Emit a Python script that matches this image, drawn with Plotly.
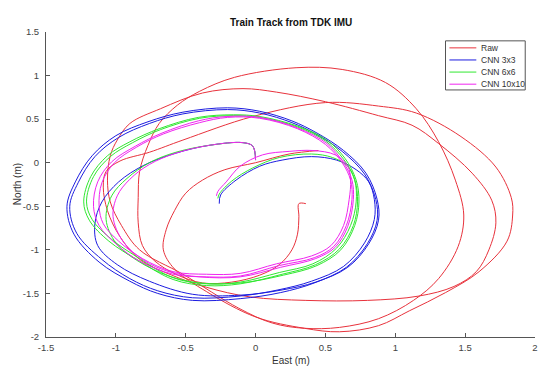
import plotly.graph_objects as go

# Trajectories (East, North) in metres
raw_pts = [
    (0.36, -0.47), (0.31, -0.47), (0.31, -0.62), (0.30, -0.82), (0.26, -1.00), (0.17, -1.17), (0.03, -1.29),
    (-0.17, -1.37), (-0.38, -1.38), (-0.57, -1.28), (-0.72, -1.13),
    (-0.81, -0.95), (-0.84, -0.69), (-0.84, -0.40), (-0.83, -0.10), (-0.77, 0.20), (-0.69, 0.45), (-0.56, 0.66),
    (-0.40, 0.82), (-0.15, 0.98), (0.29, 1.09), (0.62, 1.07), (0.93, 0.92), (1.15, 0.62), (1.31, 0.24),
    (1.43, -0.20), (1.49, -0.60), (1.45, -0.96), (1.31, -1.33), (1.13, -1.58), (0.88, -1.79), (0.60, -1.89),
    (0.35, -1.90), (0.12, -1.84), (-0.12, -1.67), (-0.52, -1.28), (-0.83, -1.00),
    (-0.96, -0.72), (-1.04, -0.45), (-1.06, -0.20), (-1.04, 0.08), (-0.99, 0.26), (-0.90, 0.45), (-0.68, 0.62),
    (-0.38, 0.80), (-0.09, 0.85), (0.15, 0.81), (0.50, 0.70), (0.88, 0.54), (1.12, 0.43), (1.31, 0.22),
    (1.55, -0.12), (1.69, -0.43), (1.72, -0.69), (1.67, -1.00), (1.58, -1.25), (1.42, -1.42), (1.17, -1.53),
    (0.80, -1.58), (0.36, -1.58), (-0.04, -1.54), (-0.35, -1.43), (-0.60, -1.29), (-0.83, -1.11),
    (-0.97, -0.85), (-1.06, -0.55), (-1.09, -0.28), (-1.07, -0.10), (-0.97, 0.02), (-0.76, 0.12), (-0.52, 0.26),
    (-0.02, 0.53), (0.50, 0.69), (0.88, 0.65), (1.15, 0.57), (1.47, 0.30), (1.72, -0.05), (1.83, -0.40),
    (1.84, -0.60), (1.80, -0.90), (1.60, -1.25), (1.36, -1.49), (1.10, -1.70), (0.88, -1.87), (0.60, -1.94),
    (0.35, -1.90), (0.00, -1.77), (-0.35, -1.48), (-0.58, -1.22), (-0.66, -1.00),
    (-0.64, -0.77), (-0.58, -0.55), (-0.50, -0.35), (-0.38, -0.20), (-0.22, -0.08), (0.00, 0.00), (0.24, 0.10),
    (0.45, 0.14),
]

cnn3_pts = [
    (-0.26, -0.47), (-0.25, -0.37), (-0.14, -0.20), (0.03, -0.04), (0.19, 0.03), (0.40, 0.07), (0.58, 0.03),
    (0.72, -0.08), (0.81, -0.22), (0.85, -0.42),
    (0.85, -0.65), (0.78, -0.92), (0.63, -1.19), (0.40, -1.36), (0.16, -1.46), (-0.11, -1.53), (-0.45, -1.55),
    (-0.70, -1.47), (-0.90, -1.33), (-1.10, -1.11), (-1.28, -0.81), (-1.33, -0.50), (-1.27, -0.23), (-1.15, 0.07),
    (-0.98, 0.29), (-0.76, 0.45), (-0.52, 0.56), (-0.20, 0.61), (0.03, 0.57), (0.26, 0.46), (0.43, 0.33),
    (0.62, 0.13), (0.78, -0.13), (0.86, -0.42),
    (0.87, -0.66), (0.80, -0.93), (0.65, -1.20), (0.42, -1.38), (0.18, -1.49), (-0.11, -1.56), (-0.45, -1.58),
    (-0.70, -1.50), (-0.90, -1.36), (-1.12, -1.14), (-1.30, -0.82), (-1.35, -0.50), (-1.29, -0.22), (-1.17, 0.08),
    (-1.00, 0.31), (-0.77, 0.47), (-0.52, 0.58), (-0.20, 0.63), (0.03, 0.59), (0.26, 0.48), (0.44, 0.34),
    (0.63, 0.14), (0.79, -0.12), (0.87, -0.42),
    (0.88, -0.66), (0.81, -0.93), (0.66, -1.20), (0.43, -1.37), (0.19, -1.46), (-0.11, -1.52), (-0.45, -1.51),
    (-0.76, -1.36), (-0.99, -1.17), (-1.13, -0.95), (-1.15, -0.70), (-1.10, -0.45), (-0.98, -0.22), (-0.80, -0.03),
    (-0.57, 0.11), (-0.33, 0.20), (-0.09, 0.23), (-0.02, 0.19), (0.00, 0.03),
]

cnn6_pts = [
    (-0.27, -0.41), (-0.26, -0.36), (-0.17, -0.21), (-0.02, -0.06), (0.17, 0.06), (0.40, 0.10), (0.55, 0.06),
    (0.66, -0.04), (0.71, -0.20),
    (0.72, -0.45), (0.68, -0.72), (0.58, -0.98), (0.41, -1.16), (0.17, -1.26), (-0.11, -1.37), (-0.35, -1.39),
    (-0.59, -1.32), (-0.83, -1.10), (-1.03, -0.88), (-1.17, -0.65), (-1.21, -0.45), (-1.16, -0.16), (-1.04, 0.07),
    (-0.88, 0.23), (-0.68, 0.38), (-0.40, 0.51), (-0.16, 0.54), (0.03, 0.52), (0.30, 0.41), (0.50, 0.25),
    (0.63, 0.04), (0.71, -0.20),
    (0.73, -0.45), (0.70, -0.72), (0.60, -0.99), (0.43, -1.17), (0.19, -1.28), (-0.11, -1.39), (-0.35, -1.41),
    (-0.59, -1.34), (-0.84, -1.12), (-1.05, -0.90), (-1.19, -0.66), (-1.23, -0.45), (-1.18, -0.16), (-1.06, 0.08),
    (-0.90, 0.24), (-0.69, 0.39), (-0.41, 0.52), (-0.16, 0.55), (0.03, 0.53), (0.30, 0.42), (0.51, 0.26),
    (0.64, 0.05), (0.72, -0.20),
    (0.74, -0.45), (0.71, -0.72), (0.61, -1.00), (0.44, -1.18), (0.20, -1.29), (-0.11, -1.38), (-0.40, -1.38),
    (-0.62, -1.30), (-0.85, -1.12), (-1.00, -0.92), (-1.07, -0.65), (-1.03, -0.38), (-0.92, -0.18), (-0.76, 0.00),
    (-0.57, 0.12), (-0.33, 0.20), (-0.09, 0.23), (-0.02, 0.19), (0.00, 0.03),
]

cnn10_pts = [
    (-0.28, -0.38), (-0.27, -0.33), (-0.21, -0.22), (-0.11, -0.04), (0.05, 0.09), (0.24, 0.13), (0.41, 0.14),
    (0.57, 0.09), (0.66, -0.04), (0.68, -0.20),
    (0.67, -0.42), (0.63, -0.72), (0.54, -0.95), (0.40, -1.07), (0.15, -1.16), (-0.11, -1.27), (-0.35, -1.28),
    (-0.59, -1.25), (-0.81, -1.10), (-0.98, -0.90), (-1.09, -0.70), (-1.12, -0.50), (-1.10, -0.23), (-1.01, 0.00),
    (-0.85, 0.18), (-0.66, 0.33), (-0.40, 0.46), (-0.20, 0.52), (0.03, 0.51), (0.30, 0.39), (0.50, 0.21),
    (0.62, 0.00), (0.68, -0.20),
    (0.69, -0.42), (0.65, -0.72), (0.56, -0.96), (0.42, -1.09), (0.17, -1.18), (-0.11, -1.30), (-0.35, -1.31),
    (-0.59, -1.28), (-0.83, -1.13), (-1.00, -0.93), (-1.12, -0.72), (-1.16, -0.50), (-1.13, -0.22), (-1.03, 0.01),
    (-0.86, 0.19), (-0.67, 0.34), (-0.41, 0.48), (-0.21, 0.53), (0.03, 0.52), (0.30, 0.40), (0.51, 0.22),
    (0.63, 0.00), (0.69, -0.20),
    (0.70, -0.42), (0.66, -0.73), (0.57, -0.97), (0.43, -1.10), (0.18, -1.20), (-0.11, -1.31), (-0.40, -1.31),
    (-0.62, -1.25), (-0.80, -1.12), (-0.95, -0.90), (-1.02, -0.62), (-0.99, -0.38), (-0.90, -0.19), (-0.76, -0.02),
    (-0.57, 0.11), (-0.33, 0.20), (-0.09, 0.23), (-0.02, 0.19), (0.00, 0.03),
]

names = ['Raw', 'CNN 3x3', 'CNN 6x6', 'CNN 10x10']
colors = ['#e8323c', '#1c1ce0', '#30e830', '#f025f0']
tracks = [raw_pts, cnn3_pts, cnn6_pts, cnn10_pts]

x_ticks = [-1.5, -1, -0.5, 0, 0.5, 1, 1.5, 2]
y_ticks = [-2, -1.5, -1, -0.5, 0, 0.5, 1, 1.5]

fig = go.Figure()
for name, col, pts in zip(names, colors, tracks):
    fig.add_trace(go.Scatter(
        x=[p[0] for p in pts], y=[p[1] for p in pts], name=name, mode='lines',
        line=dict(color=col, width=1, shape='spline', smoothing=1.0),
    ))

axis_style = dict(showgrid=False, zeroline=False, showline=True, linecolor='#555555', linewidth=1,
                  ticks='inside', ticklen=4, tickcolor='#555555', mirror=False,
                  tickfont=dict(family='Liberation Sans, Arial', size=9.5, color='#444444'))
fig.update_xaxes(range=[-1.5, 2], tickvals=x_ticks, ticktext=[f'{v:g}' for v in x_ticks],
                 ticklabelstandoff=2, **axis_style)
fig.update_yaxes(range=[-2, 1.5], tickvals=y_ticks, ticktext=[f'{v:g}' for v in y_ticks],
                 ticklabelstandoff=4, **axis_style)

fig.update_layout(
    width=550, height=375, showlegend=False,
    margin=dict(l=46, r=13, t=32, b=38),
    paper_bgcolor='white', plot_bgcolor='white',
    font=dict(family='Liberation Sans, Arial', color='#222222'),
)

# title and axis labels
fig.add_annotation(text='<b>Train Track from TDK IMU</b>', xref='paper', yref='paper', x=0.5, y=1.031,
                   showarrow=False, font=dict(size=10, color='#111111'), yanchor='middle')
fig.add_annotation(text='East (m)', xref='paper', yref='paper', x=0.5, y=-0.078,
                   showarrow=False, font=dict(size=10, color='#333333'), yanchor='middle')
fig.add_annotation(text='North (m)', xref='paper', yref='paper', x=-0.058, y=0.5, textangle=-90,
                   showarrow=False, font=dict(size=10, color='#333333'), xanchor='center')

# MATLAB style legend box
fig.add_shape(type='rect', xref='paper', yref='paper', x0=0.817, x1=0.980, y0=0.810, y1=0.971,
              line=dict(color='#555555', width=1), fillcolor='white')
for i, (name, col) in enumerate(zip(names, colors)):
    yy = 0.948 - i * 0.0397
    fig.add_shape(type='line', xref='paper', yref='paper', x0=0.825, x1=0.880, y0=yy, y1=yy,
                  line=dict(color=col, width=1))
    fig.add_annotation(text=name, xref='paper', yref='paper', x=0.886, y=yy, xanchor='left',
                       yanchor='middle', showarrow=False, font=dict(size=8.5, color='#333333'))

# the page body has a default 8px margin; remove it so the figure sits at the window corner
fig.write_html('out.html', config={'displayModeBar': False},
               post_script="document.body.style.margin='0px';")
